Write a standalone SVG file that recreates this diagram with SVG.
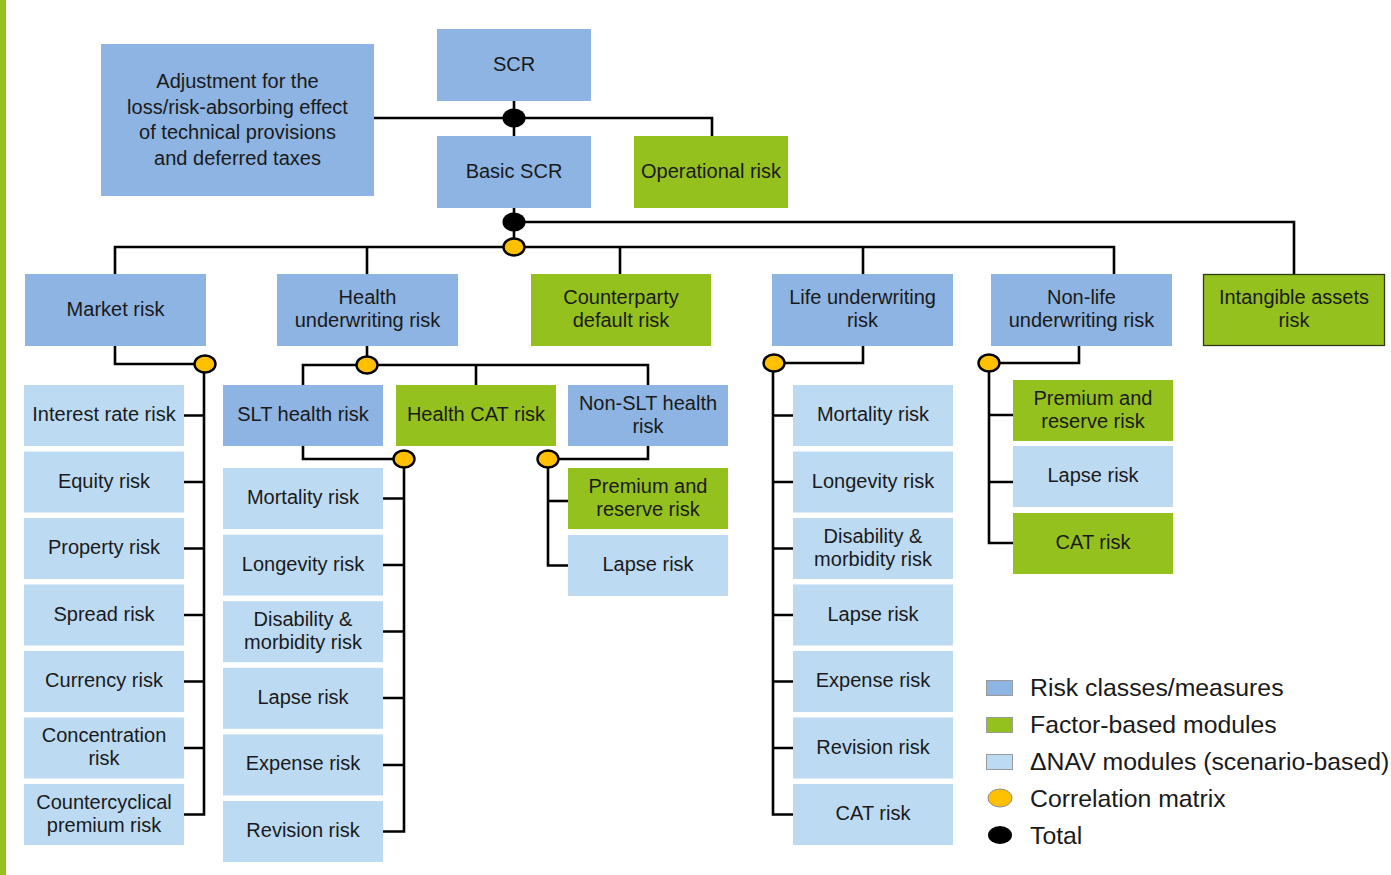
<svg xmlns="http://www.w3.org/2000/svg" width="1391" height="875" viewBox="0 0 1391 875">
  <style>
    .mid { fill: #8DB4E2; }
    .fac { fill: #95C11F; }
    .nav { fill: #BDDAF3; }
    .lbl { font-family: "Liberation Sans", Arial, sans-serif; font-size: 20px; fill: #1a1a1a; text-anchor: middle; }
    .leg { font-family: "Liberation Sans", Arial, sans-serif; font-size: 24.8px; fill: #1a1a1a; }
    .wire { fill: none; stroke: #000; stroke-width: 2.6; }
    .corr { fill: #FFC000; stroke: #000; stroke-width: 2.4; }
    .tot { fill: #000; }
  </style>

  <rect x="0" y="0" width="1391" height="875" fill="#fff"/>
  <!-- accent bar -->
  <rect x="0" y="0" width="6" height="875" fill="#95C11F"/>

  <!-- connectors -->
  <g id="connectors" class="wire">
    <!-- SCR aggregation -->
    <path d="M514 101 V136"/>
    <path d="M374 118 H712 V136"/>
    <!-- Basic SCR aggregation -->
    <path d="M514 208 V247"/>
    <path d="M514 222 H1294 V274"/>
    <path d="M115 274 V247 H1114 V274"/>
    <path d="M367 247 V274"/>
    <path d="M620 247 V274"/>
    <path d="M863 247 V274"/>
    <!-- Market -->
    <path d="M115 346 V364 H204 V814.5 H184"/>
    <path d="M184 415.5 H204 M184 482 H204 M184 548.5 H204 M184 615 H204 M184 681.5 H204 M184 748 H204"/>
    <!-- Health -->
    <path d="M367 346 V365"/>
    <path d="M303 385 V365 H648 V385"/>
    <path d="M476 365 V385"/>
    <path d="M303 446 V459 H404 V831.5 H383"/>
    <path d="M383 498.5 H404 M383 565 H404 M383 631.5 H404 M383 698 H404 M383 765 H404"/>
    <path d="M648 446 V459 H548 V565.5 H568"/>
    <path d="M548 501 H568"/>
    <!-- Life -->
    <path d="M863 346 V363 H773 V814.5 H793"/>
    <path d="M773 415.5 H793 M773 482 H793 M773 548.5 H793 M773 615 H793 M773 681.5 H793 M773 748 H793"/>
    <!-- Non-life -->
    <path d="M1079 346 V363 H989 V543 H1013"/>
    <path d="M989 415 H1013 M989 482 H1013"/>
  </g>

  <!-- aggregation markers -->
  <g id="markers">
    <ellipse class="tot" cx="514" cy="118" rx="11.5" ry="9.5"/>
    <ellipse class="tot" cx="514" cy="222" rx="11.5" ry="9.5"/>
    <ellipse class="corr" cx="514" cy="247" rx="10.5" ry="8.5"/>
    <ellipse class="corr" cx="205" cy="364" rx="10.5" ry="8.5"/>
    <ellipse class="corr" cx="367" cy="365" rx="10.5" ry="8.5"/>
    <ellipse class="corr" cx="404" cy="459" rx="10.5" ry="8.5"/>
    <ellipse class="corr" cx="548" cy="459" rx="10.5" ry="8.5"/>
    <ellipse class="corr" cx="774" cy="363" rx="10.5" ry="8.5"/>
    <ellipse class="corr" cx="989" cy="363" rx="10.5" ry="8.5"/>
  </g>

  <!-- top level -->
  <g id="adjustment">
    <rect class="mid" x="101" y="44" width="273" height="152"/>
    <text class="lbl" x="237.5" y="88">Adjustment for the</text>
    <text class="lbl" x="237.5" y="113.5">loss/risk-absorbing effect</text>
    <text class="lbl" x="237.5" y="139">of technical provisions</text>
    <text class="lbl" x="237.5" y="165">and deferred taxes</text>
  </g>
  <g id="scr">
    <rect class="mid" x="437" y="29" width="154" height="72"/>
    <text class="lbl" x="514" y="71">SCR</text>
  </g>
  <g id="basic-scr">
    <rect class="mid" x="437" y="136" width="154" height="72"/>
    <text class="lbl" x="514" y="178">Basic SCR</text>
  </g>
  <g id="operational">
    <rect class="fac" x="634" y="136" width="154" height="72"/>
    <text class="lbl" x="711" y="178">Operational risk</text>
  </g>

  <!-- risk modules -->
  <g id="market">
    <rect class="mid" x="25" y="274" width="181" height="72"/>
    <text class="lbl" x="115.5" y="316">Market risk</text>
  </g>
  <g id="health">
    <rect class="mid" x="277" y="274" width="181" height="72"/>
    <text class="lbl" x="367.5" y="304">Health</text>
    <text class="lbl" x="367.5" y="327">underwriting risk</text>
  </g>
  <g id="counterparty">
    <rect class="fac" x="531" y="274" width="180" height="72"/>
    <text class="lbl" x="621" y="304">Counterparty</text>
    <text class="lbl" x="621" y="327">default risk</text>
  </g>
  <g id="life">
    <rect class="mid" x="772" y="274" width="181" height="72"/>
    <text class="lbl" x="862.5" y="304">Life underwriting</text>
    <text class="lbl" x="862.5" y="327">risk</text>
  </g>
  <g id="non-life">
    <rect class="mid" x="991" y="274" width="181" height="72"/>
    <text class="lbl" x="1081.5" y="304">Non-life</text>
    <text class="lbl" x="1081.5" y="327">underwriting risk</text>
  </g>
  <g id="intangible">
    <rect class="fac" x="1203.5" y="274.5" width="181" height="71" stroke="#2f3a16" stroke-width="1.3"/>
    <text class="lbl" x="1294" y="304">Intangible assets</text>
    <text class="lbl" x="1294" y="327">risk</text>
  </g>

  <!-- market sub-modules -->
  <g id="mkt-interest"><rect class="nav" x="24" y="385" width="160" height="61"/><text class="lbl" x="104" y="421">Interest rate risk</text></g>
  <g id="mkt-equity"><rect class="nav" x="24" y="451.5" width="160" height="61"/><text class="lbl" x="104" y="487.5">Equity risk</text></g>
  <g id="mkt-property"><rect class="nav" x="24" y="518" width="160" height="61"/><text class="lbl" x="104" y="554">Property risk</text></g>
  <g id="mkt-spread"><rect class="nav" x="24" y="584.5" width="160" height="61"/><text class="lbl" x="104" y="620.5">Spread risk</text></g>
  <g id="mkt-currency"><rect class="nav" x="24" y="651" width="160" height="61"/><text class="lbl" x="104" y="687">Currency risk</text></g>
  <g id="mkt-concentration"><rect class="nav" x="24" y="717.5" width="160" height="61"/><text class="lbl" x="104" y="742">Concentration</text><text class="lbl" x="104" y="765">risk</text></g>
  <g id="mkt-countercyclical"><rect class="nav" x="24" y="784" width="160" height="61"/><text class="lbl" x="104" y="809">Countercyclical</text><text class="lbl" x="104" y="832">premium risk</text></g>

  <!-- health sub-modules -->
  <g id="slt-health"><rect class="mid" x="223" y="385" width="160" height="61"/><text class="lbl" x="303" y="421">SLT health risk</text></g>
  <g id="health-cat"><rect class="fac" x="396" y="385" width="160" height="61"/><text class="lbl" x="476" y="421">Health CAT risk</text></g>
  <g id="non-slt-health"><rect class="mid" x="568" y="385" width="160" height="61"/><text class="lbl" x="648" y="410">Non-SLT health</text><text class="lbl" x="648" y="433">risk</text></g>

  <g id="slt-mortality"><rect class="nav" x="223" y="468" width="160" height="61"/><text class="lbl" x="303" y="504">Mortality risk</text></g>
  <g id="slt-longevity"><rect class="nav" x="223" y="534.6" width="160" height="61"/><text class="lbl" x="303" y="570.6">Longevity risk</text></g>
  <g id="slt-disability"><rect class="nav" x="223" y="601.2" width="160" height="61"/><text class="lbl" x="303" y="626">Disability &amp;</text><text class="lbl" x="303" y="649">morbidity risk</text></g>
  <g id="slt-lapse"><rect class="nav" x="223" y="667.8" width="160" height="61"/><text class="lbl" x="303" y="703.8">Lapse risk</text></g>
  <g id="slt-expense"><rect class="nav" x="223" y="734.4" width="160" height="61"/><text class="lbl" x="303" y="770.4">Expense risk</text></g>
  <g id="slt-revision"><rect class="nav" x="223" y="801" width="160" height="61"/><text class="lbl" x="303" y="837">Revision risk</text></g>

  <g id="nslt-premium"><rect class="fac" x="568" y="468" width="160" height="61"/><text class="lbl" x="648" y="493">Premium and</text><text class="lbl" x="648" y="516">reserve risk</text></g>
  <g id="nslt-lapse"><rect class="nav" x="568" y="535" width="160" height="61"/><text class="lbl" x="648" y="571">Lapse risk</text></g>

  <!-- life sub-modules -->
  <g id="life-mortality"><rect class="nav" x="793" y="385" width="160" height="61"/><text class="lbl" x="873" y="421">Mortality risk</text></g>
  <g id="life-longevity"><rect class="nav" x="793" y="451.5" width="160" height="61"/><text class="lbl" x="873" y="487.5">Longevity risk</text></g>
  <g id="life-disability"><rect class="nav" x="793" y="518" width="160" height="61"/><text class="lbl" x="873" y="543">Disability &amp;</text><text class="lbl" x="873" y="566">morbidity risk</text></g>
  <g id="life-lapse"><rect class="nav" x="793" y="584.5" width="160" height="61"/><text class="lbl" x="873" y="620.5">Lapse risk</text></g>
  <g id="life-expense"><rect class="nav" x="793" y="651" width="160" height="61"/><text class="lbl" x="873" y="687">Expense risk</text></g>
  <g id="life-revision"><rect class="nav" x="793" y="717.5" width="160" height="61"/><text class="lbl" x="873" y="753.5">Revision risk</text></g>
  <g id="life-cat"><rect class="nav" x="793" y="784" width="160" height="61"/><text class="lbl" x="873" y="820">CAT risk</text></g>

  <!-- non-life sub-modules -->
  <g id="nl-premium"><rect class="fac" x="1013" y="380" width="160" height="61"/><text class="lbl" x="1093" y="405">Premium and</text><text class="lbl" x="1093" y="428">reserve risk</text></g>
  <g id="nl-lapse"><rect class="nav" x="1013" y="446" width="160" height="61"/><text class="lbl" x="1093" y="482">Lapse risk</text></g>
  <g id="nl-cat"><rect class="fac" x="1013" y="513" width="160" height="61"/><text class="lbl" x="1093" y="549">CAT risk</text></g>

  <!-- legend -->
  <g id="legend">
    <rect class="mid" x="986.5" y="680.5" width="26" height="15" stroke="#9a9a9a" stroke-width="1"/>
    <text class="leg" x="1030" y="696">Risk classes/measures</text>
    <rect class="fac" x="986.5" y="717.5" width="26" height="15" stroke="#9a9a9a" stroke-width="1"/>
    <text class="leg" x="1030" y="733">Factor-based modules</text>
    <rect class="nav" x="986.5" y="754.5" width="26" height="15" stroke="#9a9a9a" stroke-width="1"/>
    <text class="leg" x="1030" y="770">ΔNAV modules (scenario-based)</text>
    <ellipse cx="1000" cy="798" rx="12" ry="9" fill="#FFC000" stroke="#8a8a8a" stroke-width="1"/>
    <text class="leg" x="1030" y="807">Correlation matrix</text>
    <ellipse cx="1000" cy="835" rx="12" ry="9" fill="#000"/>
    <text class="leg" x="1030" y="844">Total</text>
  </g>
</svg>
